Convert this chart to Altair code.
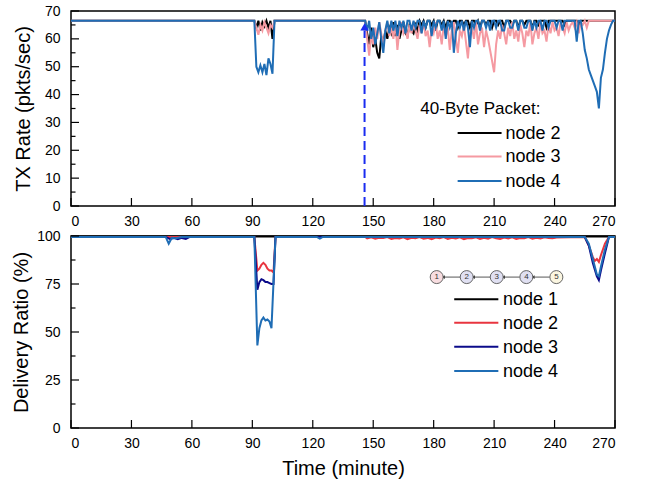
import altair as alt
import pandas as pd

FONT = "Liberation Sans"

# ---------------- top panel: TX rate ----------------
tx_series = ["node 2", "node 3", "node 4"]
tx_colors = ["#000000", "#f59aa2", "#1f6db5"]

tx_early_t = [0, 90, 91, 92, 93, 94, 95, 96, 97, 98, 99, 100, 101, 102, 145]
tx_node2_early = [66.5, 66.5, 66.5, 64, 66.5, 63, 66, 64.5, 66.5, 64, 66.5, 60, 66.5, 66.5, 66.5]
tx_node3_early = [66.5, 66.5, 66.5, 64, 61.5, 65, 63, 66, 64, 62, 65, 64, 66.5, 66.5, 66.5]
tx_node4_early = [66.5, 66.5, 66.5, 50, 48, 50.5, 48, 51, 47, 53, 51, 47.5, 66.5, 66.5, 66.5]

tx_dense_t = list(range(146, 271))
tx_node2_dense = [
    66.5, 62, 58, 64, 57, 60, 55, 53, 61, 58,
    63, 60, 64, 62, 66, 61, 65, 60, 63, 66,
    62, 61, 65, 63, 62, 65, 63, 66.5, 65, 66.5,
    64, 66.5, 66.5, 65, 66.5, 63, 66.5, 66.5, 65, 66.5,
    64, 66.5, 66.5, 65, 66.5, 66.5, 64, 66.5, 66.5, 65,
    66.5, 66.5, 64, 66.5, 66.5, 65, 66.5, 64, 66.5, 66.5,
    65, 66.5, 66.5, 64, 66.5, 66.5, 65, 66.5, 66.5, 64,
    66.5, 66.5, 66.5, 65, 66.5, 66.5, 64, 66.5, 66.5, 65,
    66.5, 66.5, 66.5, 64, 66.5, 66.5, 65, 66.5, 66.5, 66.5,
    64, 66.5, 66.5, 66.5, 66.5, 66.5, 66.5, 66.5, 66.5, 65,
    66.5, 66.5, 66.5, 66.5, 66.5, 66.5, 65, 66.5, 66.5, 66.5,
    66.5, 66.5, 66.5, 66.5, 66.5, 66.5, 66.5, 66.5, 66.5, 66.5,
    66.5, 66.5, 66.5, 66.5, 66.5,
]
tx_node3_dense = [
    66.5, 60, 54, 62, 58, 64, 60, 66, 62, 57,
    63, 66, 61, 64, 60, 66, 56, 63, 66, 62,
    64, 60, 65, 62, 66, 63, 60, 65, 62, 66,
    61, 63, 57, 64, 62, 66, 60, 63, 58, 65,
    61, 64, 56, 63, 66, 60, 55, 63, 61, 65,
    59, 53, 62, 64, 60, 66, 58, 62, 64, 57,
    63, 60, 56, 52, 48, 58, 63, 60, 65, 62,
    58, 64, 61, 66, 60, 63, 59, 65, 62, 57,
    63, 61, 66, 58, 62, 64, 60, 66, 62, 63,
    59, 65, 62, 66, 63, 64, 61, 66, 64, 62,
    66, 63, 65, 66, 64, 66, 62, 66, 65, 66.5,
    64, 66.5, 66.5, 66.5, 66.5, 66.5, 66.5, 66.5, 66.5, 66.5,
    66.5, 66.5, 66.5, 66.5, 66.5,
]
tx_node4_dense = [
    66.5, 63, 66.5, 60, 64, 58, 62, 66, 60, 55,
    63, 66.5, 62, 66.5, 63, 66.5, 61, 66.5, 64, 66.5,
    62, 66.5, 66.5, 63, 66.5, 64, 66.5, 66.5, 62, 66.5,
    64, 66.5, 66.5, 61, 66.5, 64, 66.5, 66.5, 63, 66.5,
    60, 66.5, 64, 66.5, 55, 62, 66.5, 64, 66.5, 63,
    66.5, 64, 57, 66.5, 64, 66.5, 66.5, 63, 66.5, 66.5,
    64, 66.5, 63, 66.5, 66.5, 64, 66.5, 66.5, 63, 63,
    66.5, 66.5, 64, 64, 66.5, 66.5, 63, 66.5, 66.5, 64,
    64, 66.5, 66.5, 63, 66.5, 64, 66.5, 66.5, 63, 66.5,
    66.5, 64, 66.5, 66.5, 66.5, 64, 66.5, 66.5, 63, 66.5,
    66.5, 66.5, 66.5, 66.5, 66.5, 59, 66.5, 66.5, 62, 56,
    53, 49, 47, 45, 43, 41, 35, 46, 49, 55,
    60, 63, 65, 66.5, 66.5,
]

# ---------------- bottom panel: delivery ratio ----------------
dr_series = ["node 1", "node 2", "node 3", "node 4"]
dr_colors = ["#000000", "#e8353f", "#0b0b8a", "#1f6db5"]

dr_node1_t = [0, 270]
dr_node1_v = [99.7, 99.7]

dr_node2_t = [0, 91, 92.5, 93.5, 94.5, 95.5, 96.5, 97.5, 98.5, 99.5, 100.5, 101.5, 146,
              147, 149, 151, 153, 155, 157, 159, 161, 163, 165, 167, 169, 171, 173, 175, 177,
              179, 181, 183, 185, 187, 189, 191, 193, 195, 197, 199, 201, 203, 205, 207, 209,
              211, 213, 215, 217, 219, 221, 223, 225, 227, 229, 231, 233, 235, 237, 239, 241,
              255, 257, 259, 260, 261, 262, 263, 265, 267, 270]
dr_node2_v = [99.5, 99.5, 82, 83, 85, 86, 85, 83, 82, 82, 81, 99.5, 99.5,
              98.8, 99.3, 98.6, 99.1, 98.9, 99.4, 98.5, 99.0, 98.7, 99.3, 98.4, 99.1, 98.8, 99.4, 98.6, 99.0,
              98.3, 99.2, 98.8, 99.4, 98.5, 99.1, 98.7, 99.3, 98.4, 99.0, 98.8, 99.3, 98.5, 99.1, 98.6, 99.4,
              98.8, 98.4, 99.2, 98.7, 99.3, 98.5, 99.0, 98.8, 99.4, 98.6, 99.1, 98.7, 99.3, 99.0, 98.8, 99.2,
              99.5, 95, 89, 87, 88, 86.5, 90, 96, 99.5, 99.5]

dr_node3_t = [0, 47, 49, 51, 53, 55, 57, 59, 91, 92.5, 93.5, 94.5, 95.5, 96.5, 97.5, 98.5,
              99.5, 100.5, 101.5, 255, 257, 259, 261, 262, 263, 265, 267, 270]
dr_node3_v = [99.5, 99.5, 98.5, 99, 98.3, 99, 98.5, 99.5, 99.5, 72, 76, 77.5, 77, 76, 76, 75.5,
              75, 75, 99.5, 99.5, 95, 86, 79, 77, 82, 91, 99.5, 99.5]

dr_node4_t = [0, 47, 48.5, 50, 52, 55, 91, 92.5, 93.5, 94.5, 95.5, 96.5, 97.5, 98.5, 99.5,
              101.5, 122, 123.5, 125, 255, 257, 259, 261, 262, 263, 265, 267, 270]
dr_node4_v = [99.5, 99.5, 96, 99, 98.8, 99.5, 99.5, 43, 52, 56, 57.5, 56, 56.5, 55.5, 52,
              99.5, 99.5, 98.6, 99.5, 99.5, 96, 88, 80, 79, 84, 93, 99.5, 99.5]

# ---------------- tick positions ----------------
x_ticks = [0, 30, 60, 90, 120, 150, 180, 210, 240, 270]
top_y_major = [0, 10, 20, 30, 40, 50, 60, 70]
top_y_minor = [5, 15, 25, 35, 45, 55, 65]
bot_y_major = [0, 25, 50, 75, 100]
bot_y_minor = [12.5, 37.5, 62.5, 87.5]

# annotations
arrow_t = [145.7]
arrow_v0 = [0]
arrow_v1 = [63]
arrow_head_v = [64.3]
legend_title_t = [173.4]
legend_title_v = [35]
legend_title_text = ["40-Byte Packet:"]

# legend rows (data-space anchors)
top_leg_v = [26.2, 17.8, 9.0]
top_leg_t0 = [191.9, 191.9, 191.9]
top_leg_t1 = [213.7, 213.7, 213.7]
top_leg_tl = [215.6, 215.6, 215.6]
bot_leg_v = [67.0, 54.8, 42.3, 29.7]
bot_leg_t0 = [190.2, 190.2, 190.2, 190.2]
bot_leg_t1 = [212.1, 212.1, 212.1, 212.1]
bot_leg_tl = [214.4, 214.4, 214.4, 214.4]

chain_t = [181.5, 196.4, 211.3, 226.0, 240.9]
chain_v = [78.6, 78.6, 78.6, 78.6, 78.6]
chain_label = ["1", "2", "3", "4", "5"]
chain_fill = ["#f8dde0", "#e0e0f2", "#e0e0f2", "#e0e0f2", "#fbf6e1"]


def long_df(names, ts_list, vs_list):
    rows = []
    for name, ts, vs in zip(names, ts_list, vs_list):
        for t, v in zip(ts, vs):
            rows.append({"t": t, "v": v, "s": name})
    return pd.DataFrame(rows)


top_df = long_df(
    tx_series,
    [tx_early_t + tx_dense_t] * 3,
    [tx_node2_early + tx_node2_dense, tx_node3_early + tx_node3_dense, tx_node4_early + tx_node4_dense],
)
bot_df = long_df(
    dr_series,
    [dr_node1_t, dr_node2_t, dr_node3_t, dr_node4_t],
    [dr_node1_v, dr_node2_v, dr_node3_v, dr_node4_v],
)

W = 544
H1 = 195
H2 = 192
MAJ = 8
MIN = 4.5

x_scale = alt.Scale(domain=[0, 270], nice=False, zero=False)
x_axis_top = alt.Axis(values=x_ticks, title=None)
x_axis_bot = alt.Axis(values=x_ticks, title="Time (minute)", titlePadding=8)
y_scale_top = alt.Scale(domain=[0, 70], nice=False)
y_scale_bot = alt.Scale(domain=[0, 100], nice=False)
y_axis_top = alt.Axis(values=top_y_major, title="TX Rate (pkts/sec)", titlePadding=11, labelPadding=11)
y_axis_bot = alt.Axis(values=bot_y_major, title="Delivery Ratio (%)", titlePadding=5, labelPadding=11)


def X(field="t", axis=None):
    return alt.X(f"{field}:Q", scale=x_scale, axis=axis)


def tick_layers(xa, ya, ys, h, majors, minors):
    xt = alt.Chart(pd.DataFrame({"t": x_ticks})).mark_rule(color="black", strokeWidth=1.2).encode(
        x=X("t", xa), y=alt.value(h), y2=alt.value(h - MAJ))
    ymj = alt.Chart(pd.DataFrame({"v": majors})).mark_rule(color="black", strokeWidth=1.2).encode(
        y=alt.Y("v:Q", scale=ys, axis=ya), x=alt.value(0), x2=alt.value(MAJ))
    ymn = alt.Chart(pd.DataFrame({"v": minors})).mark_rule(color="black", strokeWidth=1.2).encode(
        y=alt.Y("v:Q", scale=ys, axis=ya), x=alt.value(0), x2=alt.value(MIN))
    return [xt, ymj, ymn]


def legend_layers(names, cscale, xa, ya, ys, vs, t0, t1, tl):
    df = pd.DataFrame({"s": names, "v": vs, "t0": t0, "t1": t1, "tl": tl})
    sym = alt.Chart(df).mark_rule(strokeWidth=2).encode(
        x=X("t0", xa), x2="t1:Q", y=alt.Y("v:Q", scale=ys, axis=ya),
        color=alt.Color("s:N", scale=cscale, legend=None))
    lab = alt.Chart(df).mark_text(align="left", baseline="middle", font=FONT, fontSize=18,
                                  color="black", dy=1).encode(
        x=X("tl", xa), y=alt.Y("v:Q", scale=ys, axis=ya), text="s:N")
    return [sym, lab]


top_cscale = alt.Scale(domain=tx_series, range=tx_colors)
bot_cscale = alt.Scale(domain=dr_series, range=dr_colors)

top_lines = alt.Chart(top_df).mark_line(strokeWidth=2).encode(
    x=X("t", x_axis_top),
    y=alt.Y("v:Q", scale=y_scale_top, axis=y_axis_top),
    color=alt.Color("s:N", scale=top_cscale, legend=None),
)

arrow_df = pd.DataFrame({"t": arrow_t, "v0": arrow_v0, "v1": arrow_v1, "vh": arrow_head_v})
arrow_line = alt.Chart(arrow_df).mark_rule(color="#1a2cf0", strokeWidth=2, strokeDash=[9, 5]).encode(
    x=X("t", x_axis_top), y=alt.Y("v0:Q", scale=y_scale_top, axis=y_axis_top), y2="v1:Q")
arrow_head = alt.Chart(arrow_df).mark_point(shape="triangle-up", filled=True, color="#1a2cf0",
                                            size=70, opacity=1).encode(
    x=X("t", x_axis_top), y=alt.Y("vh:Q", scale=y_scale_top, axis=y_axis_top))

title_df = pd.DataFrame({"t": legend_title_t, "v": legend_title_v, "txt": legend_title_text})
top_title = alt.Chart(title_df).mark_text(align="left", baseline="middle", font=FONT, fontSize=17,
                                          color="black").encode(
    x=X("t", x_axis_top), y=alt.Y("v:Q", scale=y_scale_top, axis=y_axis_top), text="txt:N")

top = alt.layer(
    top_lines, arrow_line, arrow_head, top_title,
    *legend_layers(tx_series, top_cscale, x_axis_top, y_axis_top, y_scale_top,
                   top_leg_v, top_leg_t0, top_leg_t1, top_leg_tl),
    *tick_layers(x_axis_top, y_axis_top, y_scale_top, H1, top_y_major, top_y_minor),
).properties(width=W, height=H1)

bot_lines = alt.Chart(bot_df).mark_line(strokeWidth=2).encode(
    x=X("t", x_axis_bot),
    y=alt.Y("v:Q", scale=y_scale_bot, axis=y_axis_bot),
    color=alt.Color("s:N", scale=bot_cscale, legend=None),
)

chain_df = pd.DataFrame({"t": chain_t, "v": chain_v, "lab": chain_label, "fill": chain_fill})
link_df = pd.DataFrame({
    "t0": [chain_t[i] + 3.3 for i in range(4)],
    "t1": [chain_t[i + 1] - 3.3 for i in range(4)],
    "v": chain_v[:4],
})
links = alt.Chart(link_df).mark_rule(color="#444444", strokeWidth=0.9).encode(
    x=X("t0", x_axis_bot), x2="t1:Q", y=alt.Y("v:Q", scale=y_scale_bot, axis=y_axis_bot))
heads = alt.Chart(link_df).mark_point(shape="triangle-left", filled=True, color="#444444",
                                      size=14, opacity=1).encode(
    x=X("t0", x_axis_bot), y=alt.Y("v:Q", scale=y_scale_bot, axis=y_axis_bot))
circles = alt.Chart(chain_df).mark_point(shape="circle", filled=True, size=169, stroke="#555555",
                                         strokeWidth=0.9, opacity=1).encode(
    x=X("t", x_axis_bot), y=alt.Y("v:Q", scale=y_scale_bot, axis=y_axis_bot),
    fill=alt.Fill("fill:N", scale=None))
circle_text = alt.Chart(chain_df).mark_text(font=FONT, fontSize=8, color="#333333").encode(
    x=X("t", x_axis_bot), y=alt.Y("v:Q", scale=y_scale_bot, axis=y_axis_bot), text="lab:N")

bottom = alt.layer(
    bot_lines, links, heads, circles, circle_text,
    *legend_layers(dr_series, bot_cscale, x_axis_bot, y_axis_bot, y_scale_bot,
                   bot_leg_v, bot_leg_t0, bot_leg_t1, bot_leg_tl),
    *tick_layers(x_axis_bot, y_axis_bot, y_scale_bot, H2, bot_y_major, bot_y_minor),
).properties(width=W, height=H2)

chart = alt.vconcat(top, bottom, spacing=-1).resolve_scale(color="independent").configure_view(
    stroke="black", strokeWidth=1.5
).configure_axis(
    domain=False, grid=False, ticks=False, labelFont=FONT, labelFontSize=14, labelColor="black",
    labelPadding=8, titleFont=FONT, titleFontSize=20, titleFontWeight="normal", titleColor="black",
).properties(padding={"left": 10, "top": 3, "right": 5, "bottom": 5}, background="white")

chart.save("out.html", embed_options={"renderer": "svg", "actions": False})
